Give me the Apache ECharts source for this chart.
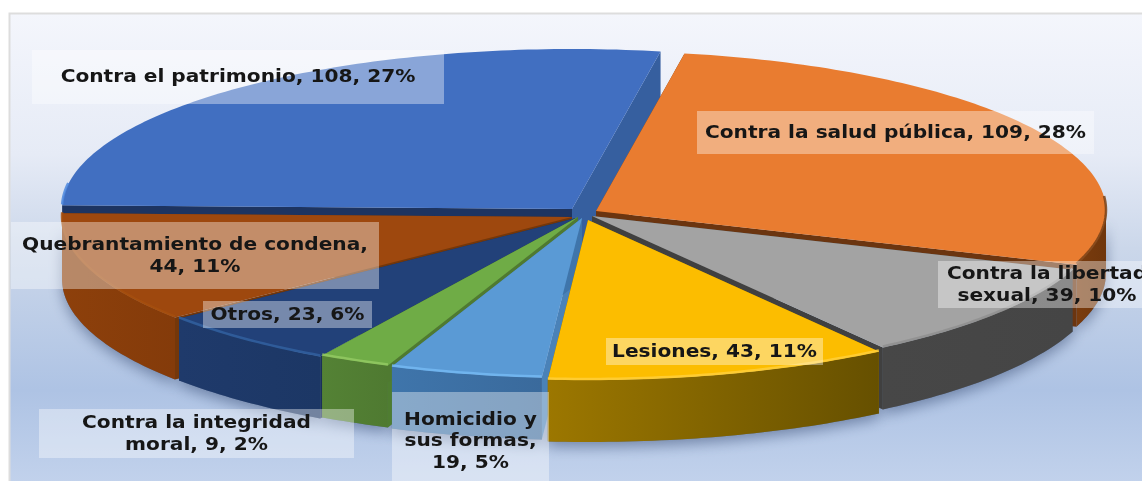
<!DOCTYPE html>
<html><head><meta charset="utf-8">
<style>html,body{margin:0;padding:0;background:#fff;overflow:hidden}#c{width:1142px;height:481px}</style>
<script src="https://cdn.jsdelivr.net/npm/echarts@6/dist/echarts.min.js"></script>
</head><body><div id="c"></div>
<script>
// ---- data, in the chart's clockwise order
const categories = ['Contra la salud pública','Contra la libertad sexual','Lesiones','Homicidio y sus formas','Contra la integridad moral','Otros','Quebrantamiento de condena','Contra el patrimonio'];
const values = [109,39,43,19,9,23,44,108];
const labelTexts = ['Contra la salud pública, 109, 28%','Contra la libertad\nsexual, 39, 10%','Lesiones, 43, 11%','Homicidio y\nsus formas,\n19, 5%','Contra la integridad\nmoral, 9, 2%','Otros, 23, 6%','Quebrantamiento de condena,\n44, 11%','Contra el patrimonio, 108, 27%'];
// ---- style
const topColors  = ['#e97c30','#a3a3a3','#fcbd00','#5a9ad5','#6fac46','#224179','#9e480e','#416fc1'];
const rimColors  = ['#7a4216','#8f8f8f','#ffcf3a','#74b8f2','#93c963','#31609f','#a44f0e','#4d88de'];
const wallFrom   = ['#7a3c0e','#474747','#9c7700','#3f75ab','#548235','#1f3a6b','#8d400b','#2f5597'];
const wallTo     = ['#6f360c','#454545','#665000','#3a6a9c','#4f7a31','#1c3765','#843b0a','#2f5597'];
const faceStart  = ['#7a3c0e','#474747','#9c7700','#4a82b8','#4f7d31','#1a3058','#74370a','#1d3461'];
const faceEnd    = ['#6b3510','#404040','#7d6000','#3f75ab','#4f7a31','#1a3058','#74370a','#365f9f'];
const apexes = [[596,211],[592,216],[588,220],[582,218],[578,217],[576,218],[572,217],[572,209]];
const paintOrder = [7,0,1,6,5,4,3,2];
const labelBoxes = [[697,111,397,43],[938,261,204,47],[606,338,217,27],[392,392,157,89],[39,409,315,49],[203,301,169,27],[11,222,368,67],[32,50,412,54]];
const RX = 510, RY = 160, DEPTH = 62, START = 10, TEXT_STRETCH = 1.185;

const total = values.reduce((a,b)=>a+b,0);
const starts = []; values.reduce((acc,v,i)=>{starts[i]=acc;return acc+v*360/total;},START);
function pt(i,deg,dy){const r=deg*Math.PI/180,a=apexes[i];return [a[0]+RX*Math.sin(r),a[1]-RY*Math.cos(r)+(dy||0)];}
function arc(i,a0,a1,dy){const out=[],n=Math.max(2,Math.ceil(Math.abs(a1-a0)));for(let k=0;k<=n;k++)out.push(pt(i,a0+(a1-a0)*k/n,dy));return out;}
function wallPoints(i){
  const a0=Math.max(starts[i],90),a1=Math.min(starts[i]+values[i]*360/total,270);
  if(a1<=a0) return null;
  return arc(i,a0,a1,0).concat(arc(i,a0,a1,DEPTH).reverse());
}
function grad(c0,c1){return new echarts.graphic.LinearGradient(0,0,1,0,[{offset:0,color:c0},{offset:1,color:c1}]);}

function renderShadow(params,api){
  const i=api.value(1),w=wallPoints(i);
  if(!w) return {type:'group',children:[]};
  return {type:'polygon',shape:{points:w},style:{fill:'#5f7396',shadowBlur:14,shadowOffsetY:5,shadowColor:'rgba(45,65,105,0.5)'}};
}
function renderSlice(params,api){
  const i=api.value(1),v=api.value(0),a0=starts[i],a1=a0+v*360/total;
  const ap=apexes[i],ch=[];
  const face=(deg,color)=>{const p=pt(i,deg);ch.push({type:'polygon',shape:{points:[ap,p,[p[0],p[1]+DEPTH],[ap[0],ap[1]+DEPTH]]},style:{fill:color}});};
  face(a0,faceStart[i]); face(a1,faceEnd[i]);
  const w=wallPoints(i);
  if(w) ch.push({type:'polygon',shape:{points:w},style:{fill:grad(wallFrom[i],wallTo[i])}});
  ch.push({type:'polygon',shape:{points:[ap].concat(arc(i,a0,a1))},style:{fill:topColors[i]}});
  const ra0=Math.max(a0,85),ra1=Math.min(a1,279);
  if(ra1>ra0) ch.push({type:'polyline',shape:{points:arc(i,ra0,ra1,-1)},style:{fill:null,stroke:rimColors[i],lineWidth:2.5,opacity:0.85}});
  return {type:'group',children:ch};
}
function renderLabel(params,api){
  const i=api.value(1),b=labelBoxes[i],lh=21.5;
  const cy=(i===3?b[1]+49:b[1]+b[3]/2)+1;
  return {type:'group',children:[
    {type:'rect',shape:{x:b[0],y:b[1],width:b[2],height:b[3]},style:{fill:'rgba(255,255,255,0.38)'}},
    {type:'text',x:i===1?1047:b[0]+b[2]/2,y:cy,scaleX:TEXT_STRETCH,style:{text:labelTexts[i],align:'center',verticalAlign:'middle',lineHeight:lh,fill:'#161616',font:'bold 17px "DejaVu Sans"'}}
  ]};
}
const rows=paintOrder.map(i=>[values[i],i]);
const chart=echarts.init(document.getElementById('c'),null,{renderer:'canvas'});
chart.setOption({
  animation:false,
  backgroundColor:'#ffffff',
  graphic:[{type:'rect',z:0,silent:true,shape:{x:9.5,y:13.5,width:1140,height:470},
    style:{stroke:'#dddddd',lineWidth:2,fill:new echarts.graphic.LinearGradient(0,0,0,1,[
      {offset:0,color:'#f4f6fc'},{offset:0.3,color:'#e6ebf6'},{offset:0.5,color:'#cbd7ea'},{offset:0.8,color:'#aec3e4'},{offset:1,color:'#c2d2ec'}])}}],
  series:[
    {type:'custom',coordinateSystem:'none',z:1,silent:true,data:rows,renderItem:renderShadow,encode:{}},
    {type:'custom',coordinateSystem:'none',z:2,silent:true,data:rows,renderItem:renderSlice,encode:{}},
    {type:'custom',coordinateSystem:'none',z:3,silent:true,data:[7,0,1,2,3,5,4,6].map(i=>[values[i],i]),renderItem:renderLabel,encode:{}}
  ]
});
</script></body></html>
